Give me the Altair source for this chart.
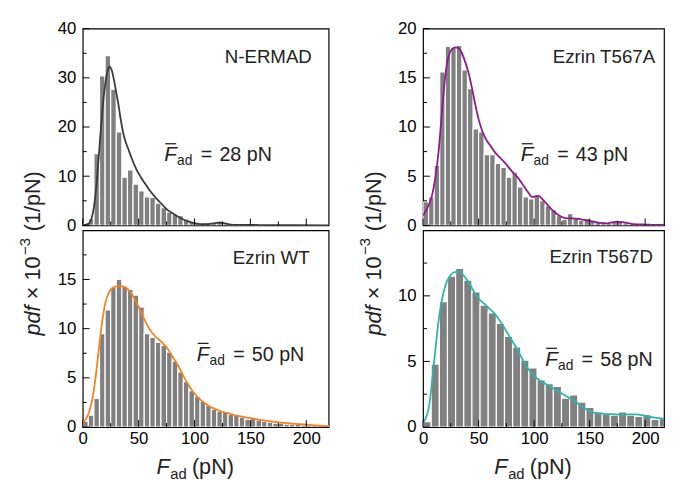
import altair as alt
import pandas as pd

FONT = "Liberation Sans"
GRAY = "#808080"

# ---------------- data ----------------
bin_w5 = 5.0
bin_w_t567d = 22.0 / 3.0

nermad_bars = [0.2, 1.3, 14.6, 30.4, 34.5, 27.7, 19.0, 9.8, 11.3, 8.4, 7.0, 5.8, 5.7, 4.5, 3.6,
               2.7, 2.3, 2.0, 1.3, 0.7, 0.4, 0.3, 0.5, 0.6, 0.9, 0.3, 0.2, 0.1, 0.2, 0.1, 0.3,
               0.1, 0, 0, 0, 0, 0, 0, 0, 0, 0, 0, 0, 0]
wt_bars = [0.6, 1.2, 2.9, 9.5, 11.9, 14.2, 15.0, 14.3, 14.0, 13.4, 12.2, 9.5, 9.1, 8.6, 8.3,
           7.6, 6.7, 5.6, 4.6, 3.7, 3.1, 2.6, 2.2, 1.8, 1.6, 1.5, 1.3, 1.2, 1.0, 0.8, 0.9, 0.7,
           0.6, 0.5, 0.4, 0.4, 0.3, 0.3, 0.3, 0.2, 0.2, 0.2, 0.2, 0.1]
t567a_bars = [2.4, 2.9, 6.1, 15.6, 18.2, 18.1, 18.3, 15.8, 13.9, 9.8, 9.5, 7.2, 7.2, 6.3, 5.9,
              4.9, 5.4, 3.9, 2.9, 2.7, 3.0, 2.5, 2.0, 1.6, 1.0, 0.6, 1.2, 0.8, 0.5, 0.7, 0.5,
              0.35, 0.25, 0.2, 0.35, 0.4, 0.25, 0.1, 0.1, 0.05, 0.05, 0.05, 0.05, 0.05]
t567d_bars = [0.4, 4.8, 9.55, 11.5, 12.1, 11.2, 10.3, 9.3, 8.7, 7.9, 6.9, 6.1, 5.1, 4.5, 3.6,
              3.3, 3.1, 2.2, 2.45, 1.9, 1.5, 1.15, 1.0, 0.9, 1.15, 0.9, 0.8, 0.95, 0.57, 0.65]

nermad_cx = [0, 5, 8, 10, 12, 14, 16, 18, 20, 22, 24, 26, 28, 30, 32, 34, 36, 38, 40, 44, 48,
             52, 56, 60, 65, 70, 75, 80, 85, 90, 95, 100, 105, 110, 115, 120, 125, 130, 135,
             140, 150, 160, 220]
nermad_cy = [0, 0.3, 1.5, 3.7, 7.5, 13, 19, 24.5, 28.5, 31.3, 32.3, 31.5, 29.5, 27, 24.5, 21.5,
             19, 17.2, 16, 13.5, 11.4, 9.8, 8.4, 7.1, 5.7, 4.5, 3.3, 2.5, 1.8, 1.2, 0.75, 0.45,
             0.25, 0.25, 0.35, 0.5, 0.5, 0.25, 0.12, 0.1, 0.12, 0.05, 0.02]

wt_cx = [0, 5, 8, 10, 12, 14, 16, 18, 20, 23, 26, 30, 34, 38, 42, 46, 50, 55, 60, 65, 70, 75,
         80, 85, 90, 95, 100, 105, 110, 115, 120, 125, 130, 140, 150, 160, 170, 180, 190, 200,
         210, 220]
wt_cy = [0.4, 1.3, 2.5, 3.8, 5.5, 7.5, 9.5, 11.2, 12.5, 13.6, 14.1, 14.3, 14.35, 14.2, 13.8,
         13.1, 12.2, 11.0, 9.9, 9.2, 8.7, 8.1, 7.2, 6.3, 5.2, 4.2, 3.4, 2.8, 2.35, 2.0, 1.75,
         1.55, 1.4, 1.1, 0.9, 0.7, 0.55, 0.42, 0.32, 0.25, 0.15, 0.08]

t567a_cx = [0, 4, 8, 11, 14, 17, 20, 23, 26, 29, 32, 35, 38, 41, 44, 47, 50, 53, 56, 60, 65, 70,
            75, 80, 85, 90, 95, 98, 101, 104, 108, 112, 116, 120, 125, 130, 135, 140, 145, 150,
            155, 160, 165, 170, 175, 180, 185, 190, 200, 210, 220]
t567a_cy = [1.0, 1.8, 3.0, 4.8, 7.5, 11.5, 15.2, 17.2, 17.9, 18.1, 18.0, 17.5, 16.6, 15.5, 14.0,
            12.3, 10.8, 9.7, 8.9, 8.2, 7.4, 6.8, 6.2, 5.5, 4.9, 4.1, 3.3, 2.9, 2.95, 3.0, 2.6,
            2.1, 1.6, 1.2, 0.85, 0.7, 0.7, 0.65, 0.55, 0.45, 0.35, 0.25, 0.2, 0.3, 0.38, 0.33,
            0.22, 0.12, 0.08, 0.05, 0.05]

t567d_cx = [0, 3, 5, 7, 9, 11, 13, 15, 18, 21, 24, 28, 32, 35, 38, 42, 46, 50, 55, 60, 65, 70,
            75, 80, 85, 90, 95, 100, 105, 110, 115, 120, 125, 130, 135, 140, 145, 150, 155, 160,
            170, 180, 190, 195, 200, 210, 220]
t567d_cy = [0.3, 0.8, 1.4, 2.6, 4.2, 5.8, 7.4, 8.7, 10.1, 11.0, 11.5, 11.8, 11.85, 11.7, 11.4,
            10.9, 10.3, 9.8, 9.4, 9.0, 8.6, 8.0, 7.3, 6.6, 5.9, 5.1, 4.4, 3.9, 3.55, 3.3, 3.05,
            2.8, 2.55, 2.3, 2.05, 1.75, 1.45, 1.2, 1.07, 1.02, 0.98, 0.95, 0.97, 0.95, 0.85,
            0.7, 0.6]

x_labels = [0, 50, 100, 150, 200]
x_minor = [25, 75, 125, 175]

names = ["N-ERMAD", "Ezrin WT", "Ezrin T567A", "Ezrin T567D"]
means = ["28 pN", "50 pN", "43 pN", "58 pN"]
colors = ["#3a3a3a", "#f7811e", "#8e1a8c", "#2bb5ae"]

H = 200


def panel(bars, bw, cx, cy, color, ymax, ylab, ymin, name, name_xy, mean, mean_xy,
          width, xmax, bottom, ytitle=False, xtitle=False):
    xs = alt.Scale(domain=[0, xmax], nice=False, zero=False)
    ys = alt.Scale(domain=[0, ymax], nice=False, zero=False)
    xpx = width / xmax
    ypx = H / ymax
    xaxis = alt.Axis(values=x_labels, ticks=False, domain=False, grid=False, labels=bottom,
                     title=None, labelFontSize=17, labelPadding=4, labelFont=FONT,
                     labelColor="black", labelFlush=False, labelOverlap=False)
    yaxis = alt.Axis(values=ylab, ticks=False, domain=False, grid=False, title=None,
                     labelFontSize=17, labelPadding=7, labelFont=FONT, labelColor="black",
                     labelFlush=False, labelOverlap=False)

    def X(f):
        return alt.X(f, type="quantitative", scale=xs, axis=xaxis)

    def Y(f):
        return alt.Y(f, type="quantitative", scale=ys, axis=yaxis)

    bdf = pd.DataFrame({"x0": [i * bw for i in range(len(bars))],
                        "x1": [(i + 1) * bw for i in range(len(bars))],
                        "y": bars})
    layers = []
    layers.append(alt.Chart(bdf).mark_rect(color=GRAY, stroke="white", strokeWidth=1.2,
                                           clip=True).encode(
        x=X("x0"), x2="x1", y=Y("y"), y2=alt.datum(0)))
    cdf = pd.DataFrame({"x": cx, "y": cy})
    layers.append(alt.Chart(cdf).mark_line(color=color, strokeWidth=1.8, clip=True,
                                           interpolate="monotone").encode(x=X("x"), y=Y("y")))
    # inward ticks
    layers.append(alt.Chart(pd.DataFrame({"v": x_labels})).mark_rule(color="black", strokeWidth=1).encode(
        x=X("v"), y=alt.value(H), y2=alt.value(H - 7)))
    layers.append(alt.Chart(pd.DataFrame({"v": x_minor})).mark_rule(color="black", strokeWidth=1).encode(
        x=X("v"), y=alt.value(H), y2=alt.value(H - 4)))
    layers.append(alt.Chart(pd.DataFrame({"v": ylab})).mark_rule(color="black", strokeWidth=1).encode(
        y=Y("v"), x=alt.value(0), x2=alt.value(7)))
    layers.append(alt.Chart(pd.DataFrame({"v": ymin})).mark_rule(color="black", strokeWidth=1).encode(
        y=Y("v"), x=alt.value(0), x2=alt.value(4)))
    # panel name
    layers.append(alt.Chart(pd.DataFrame({"x": [name_xy[0]], "y": [name_xy[1]], "t": [name]})).mark_text(
        align="right", baseline="alphabetic", fontSize=19, font=FONT, color="#222").encode(
        x=X("x"), y=Y("y"), text="t:N"))
    # mean annotation
    mdf = pd.DataFrame({"x": [mean_xy[0]], "y": [mean_xy[1]]})
    base = alt.Chart(mdf).encode(x=X("x"), y=Y("y"))
    layers.append(base.mark_text(align="left", baseline="alphabetic", fontSize=21, font=FONT,
                                 fontStyle="italic", color="#222", text="F"))
    layers.append(base.mark_text(align="left", baseline="alphabetic", fontSize=14, font=FONT,
                                 color="#222", text="ad", dx=13, dy=4))
    layers.append(base.mark_text(align="left", baseline="alphabetic", fontSize=20, font=FONT,
                                 color="#222", text="=", dx=37))
    layers.append(base.mark_text(align="left", baseline="alphabetic", fontSize=20, font=FONT,
                                 color="#222", text=mean, dx=56))
    odf = pd.DataFrame({"x": [mean_xy[0] + 1 / xpx], "x2": [mean_xy[0] + 12 / xpx],
                        "y": [mean_xy[1] + 18 / ypx]})
    layers.append(alt.Chart(odf).mark_rule(color="#222", strokeWidth=1.3).encode(
        x=X("x"), x2="x2", y=Y("y")))
    if ytitle:
        yt = alt.Chart(pd.DataFrame({"a": [0]})).encode(x=alt.value(-50), y=alt.value(312))
        common = dict(angle=270, align="left", baseline="middle", font=FONT, color="#222")
        layers.append(yt.mark_text(text="pdf", fontSize=22, fontStyle="italic", **common))
        layers.append(yt.mark_text(text="× 10", fontSize=22, dx=37, **common))
        layers.append(yt.mark_text(text="−3", fontSize=15, dx=82, dy=-9, **common))
        layers.append(yt.mark_text(text="(1/pN)", fontSize=22, dx=106, **common))
    if xtitle:
        xt = alt.Chart(pd.DataFrame({"a": [0]})).encode(x=alt.value(width / 2 - 50), y=alt.value(H + 48))
        common = dict(align="left", baseline="alphabetic", font=FONT, color="#222")
        layers.append(xt.mark_text(text="F", fontSize=22, fontStyle="italic", **common))
        layers.append(xt.mark_text(text="ad", fontSize=15, dx=14, dy=5, **common))
        layers.append(xt.mark_text(text="(pN)", fontSize=22, dx=36, **common))
    return alt.layer(*layers).properties(width=width, height=H)


WL = 250
WR = 245
tl = panel(nermad_bars, bin_w5, nermad_cx, nermad_cy, colors[0], 40, [0, 10, 20, 30, 40],
           [5, 15, 25, 35], names[0], (205, 33), means[0], (73, 13), WL, 220, False, ytitle=True)
bl = panel(wt_bars, bin_w5, wt_cx, wt_cy, colors[1], 20, [0, 5, 10, 15],
           [2.5, 7.5, 12.5, 17.5], names[1], (203, 16.6), means[1], (102, 6.7), WL, 220, True,
           xtitle=True)
tr = panel(t567a_bars, bin_w5, t567a_cx, t567a_cy, colors[2], 20, [0, 5, 10, 15, 20],
           [2.5, 7.5, 12.5, 17.5], names[2], (209, 16.5), means[2], (88, 6.5), WR, 217, False,
           ytitle=True)
br = panel(t567d_bars, bin_w_t567d, t567d_cx, t567d_cy, colors[3], 15, [0, 5, 10],
           [2.5, 7.5, 12.5], names[3], (207, 12.5), means[3], (110, 4.65), WR, 217, True,
           xtitle=True)

chart = alt.concat(tl, tr, bl, br, columns=2, spacing={"row": 5, "column": 96},
                   bounds="flush").properties(
    padding={"left": 9, "top": 7, "right": 0, "bottom": 0}).configure_view(
    stroke="black", strokeWidth=1.2)

chart.save("out.html", embed_options={"renderer": "svg", "actions": False})
